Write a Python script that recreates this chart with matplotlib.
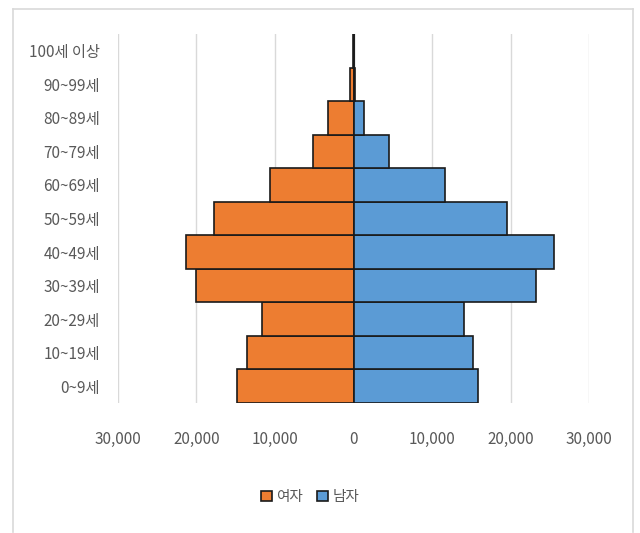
import matplotlib
matplotlib.use("Agg")
import matplotlib.pyplot as plt
from matplotlib.patches import Patch
from matplotlib.lines import Line2D

plt.rcParams['font.family'] = ['Noto Sans CJK KR', 'DejaVu Sans']

# Age groups (bottom to top)
age_groups = ["0~9세", "10~19세", "20~29세", "30~39세", "40~49세", "50~59세",
              "60~69세", "70~79세", "80~89세", "90~99세", "100세 이상"]
female = [14900, 13600, 11600, 20100, 21300, 17800, 10600, 5200, 3300, 500, 100]
male = [15900, 15200, 14100, 23200, 25600, 19600, 11700, 4500, 1300, 200, 100]
xticks = [-30000, -20000, -10000, 0, 10000, 20000, 30000]

ORANGE = "#ED7D31"
BLUE = "#5B9BD5"
EDGE = "#1a1a1a"
TEXT = "#595959"
GRID = "#d9d9d9"

fig = plt.figure(figsize=(6.4, 5.33), dpi=100)
ax = fig.add_axes([118 / 640, 1 - 403 / 533, (589 - 118) / 640, (403 - 34) / 533])

y = list(range(len(age_groups)))
ax.barh(y, [-v for v in female], height=1.0, color=ORANGE, edgecolor=EDGE,
        linewidth=1.2, zorder=3, label="여자")
ax.barh(y, male, height=1.0, color=BLUE, edgecolor=EDGE,
        linewidth=1.2, zorder=3, label="남자")

ax.set_xlim(-30000, 30000)
ax.set_ylim(-0.5, len(age_groups) - 0.5)
ax.set_xticks(xticks)
ax.set_xticklabels([f"{abs(v):,}" for v in xticks])
ax.set_yticks(y)
ax.set_yticklabels(age_groups)
ax.tick_params(axis="x", length=0, pad=20, labelsize=11, labelcolor=TEXT)
ax.tick_params(axis="y", length=0, pad=13, labelsize=11, labelcolor=TEXT)
ax.grid(axis="x", color=GRID, linewidth=1, zorder=0)
ax.axvline(0, color="#bfbfbf", linewidth=1, zorder=2)
for s in ax.spines.values():
    s.set_visible(False)

# legend
handles = [Patch(facecolor=ORANGE, edgecolor=EDGE, linewidth=1.2, label="여자"),
           Patch(facecolor=BLUE, edgecolor=EDGE, linewidth=1.2, label="남자")]
fig.legend(handles=handles, loc="center", bbox_to_anchor=(310 / 640, 1 - 497 / 533),
           ncol=2, frameon=False, handlelength=0.75, handleheight=0.75,
           handletextpad=0.3, columnspacing=1.0, fontsize=10.5, labelcolor=TEXT)

# chart border
bx0, bx1, by0, by1 = 13 / 640, 633 / 640, 1 - 532 / 533, 1 - 9 / 533
for xs, ys in [((bx0, bx1), (by1, by1)), ((bx0, bx0), (by0, by1)), ((bx1, bx1), (by0, by1))]:
    fig.add_artist(Line2D(xs, ys, transform=fig.transFigure, color="#d9d9d9", linewidth=1.2))

fig.savefig("out.png", dpi=100)
